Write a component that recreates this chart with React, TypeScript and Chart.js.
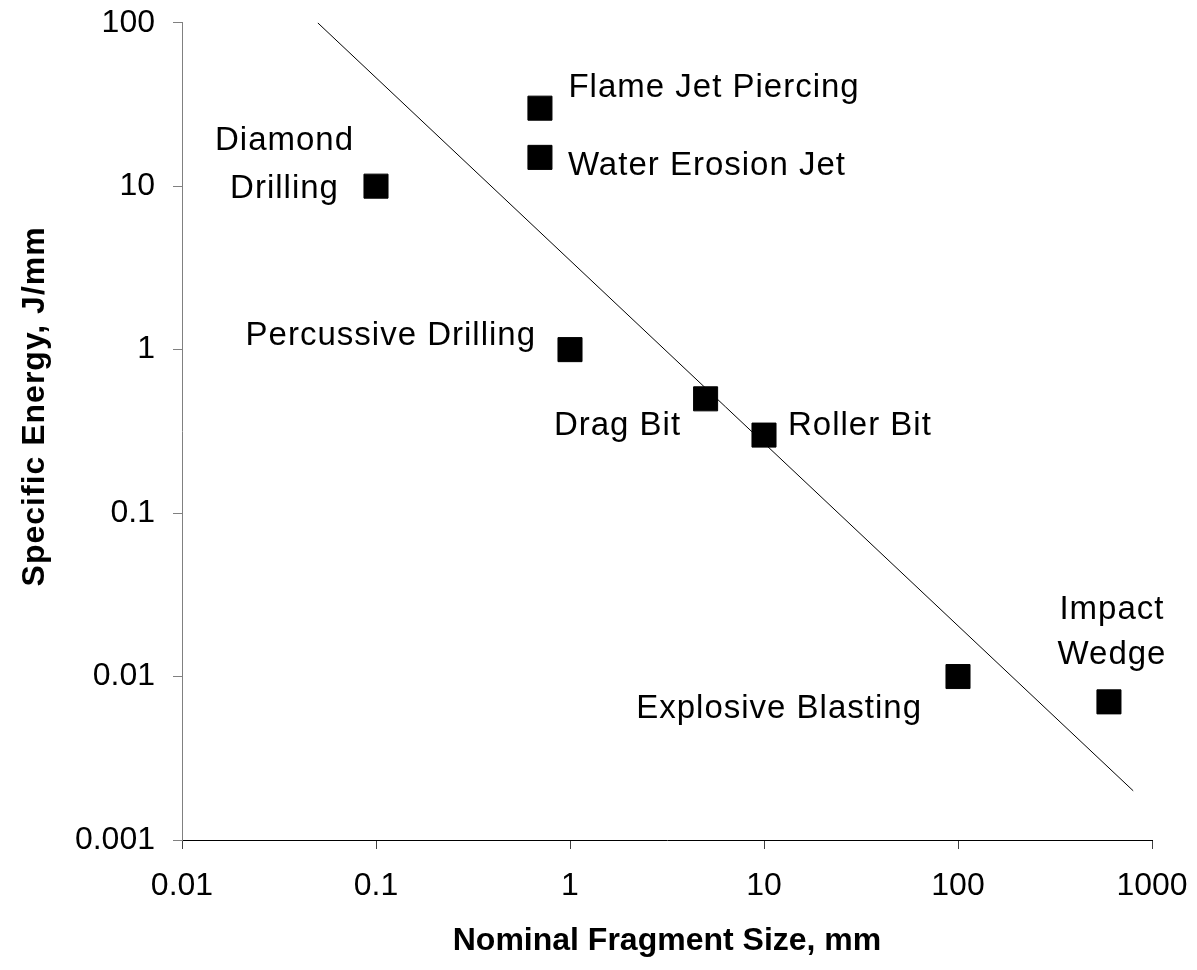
import React, { useEffect, useRef } from "react";
import { Chart, registerables } from "chart.js";

Chart.register(...registerables);

// ---- data ----
const methodLabels: string[][] = [
  ["Diamond", "Drilling"],
  ["Flame Jet Piercing"],
  ["Water Erosion Jet"],
  ["Percussive Drilling"],
  ["Drag Bit"],
  ["Roller Bit"],
  ["Explosive Blasting"],
  ["Impact", "Wedge"],
];
const fragmentSize = [0.1, 0.7, 0.7, 1, 5, 10, 100, 600];
const specificEnergy = [10, 30, 15, 1, 0.5, 0.3, 0.01, 0.007];

const trendSize = [0.05, 800];
const trendEnergy = [100, 0.002];

const xTickValues = [0.01, 0.1, 1, 10, 100, 1000];
const xTickLabels = ["0.01", "0.1", "1", "10", "100", "1000"];
const yTickValues = [0.001, 0.01, 0.1, 1, 10, 100];
const yTickLabels = ["0.001", "0.01", "0.1", "1", "10", "100"];

const xTitle = "Nominal Fragment Size, mm";
const yTitle = "Specific Energy, J/mm";

// ---- styles ----
const FONT = "Arial, 'Liberation Sans', sans-serif";
type Placement = { align: CanvasTextAlign; dx: number; dy: number; gap: number };
const labelPlacement: Placement[] = [
  { align: "center", dx: -91.5, dy: -36, gap: 48 },
  { align: "left", dx: 28.5, dy: -11, gap: 0 },
  { align: "left", dx: 28, dy: 18, gap: 0 },
  { align: "right", dx: -34, dy: -4.5, gap: 0 },
  { align: "right", dx: -24.5, dy: 36, gap: 0 },
  { align: "left", dx: 24, dy: 0, gap: 0 },
  { align: "right", dx: -36, dy: 41, gap: 0 },
  { align: "center", dx: 3, dy: -83, gap: 45 },
];

const pointLabelPlugin = {
  id: "pointLabels",
  afterDatasetsDraw(chart: any) {
    const meta = chart.getDatasetMeta(0);
    const ctx = chart.ctx;
    ctx.save();
    ctx.font = `33px ${FONT}`;
    (ctx as any).letterSpacing = "1px";
    ctx.fillStyle = "#000";
    ctx.textBaseline = "alphabetic";
    meta.data.forEach((el: any, i: number) => {
      const p = labelPlacement[i];
      ctx.textAlign = p.align;
      methodLabels[i].forEach((line, j) => {
        ctx.fillText(line, el.x + p.dx, el.y + p.dy + j * p.gap);
      });
    });
    ctx.restore();
  },
};

const axisTitlePlugin = {
  id: "axisTitles",
  afterDraw(chart: any) {
    const { ctx, chartArea } = chart;
    ctx.save();
    ctx.fillStyle = "#000";
    ctx.font = `bold 32px ${FONT}`;
    ctx.textAlign = "center";
    ctx.textBaseline = "middle";
    ctx.fillText(xTitle, (chartArea.left + chartArea.right) / 2, chartArea.bottom + 101);
    ctx.translate(35.5, (chartArea.top + chartArea.bottom) / 2 - 25);
    ctx.rotate(-Math.PI / 2);
    (ctx as any).letterSpacing = "1px";
    ctx.fillText(yTitle, 0, 0);
    ctx.restore();
  },
};

const noAutoPadding = (s: any) => {
  s.paddingTop = 0;
  s.paddingBottom = 0;
  s.paddingLeft = 0;
  s.paddingRight = 0;
};

export default function App() {
  const ref = useRef<HTMLCanvasElement>(null);

  useEffect(() => {
    if (!ref.current) return;
    const points = fragmentSize.map((x, i) => ({ x, y: specificEnergy[i] }));
    const trend = trendSize.map((x, i) => ({ x, y: trendEnergy[i] }));
    const chart = new Chart(ref.current, {
      type: "scatter",
      data: {
        datasets: [
          {
            data: points,
            pointStyle: "rect",
            pointRadius: 17,
            pointHoverRadius: 17,
            backgroundColor: "#000",
            borderColor: "#000",
            borderWidth: 1,
            showLine: false,
          },
          {
            data: trend,
            showLine: true,
            pointRadius: 0,
            borderColor: "#000",
            borderWidth: 1,
            fill: false,
          },
        ],
      },
      options: {
        responsive: false,
        animation: false,
        layout: { padding: { top: 22.7, right: 45, left: 0, bottom: 0 } },
        plugins: {
          legend: { display: false },
          tooltip: { enabled: false },
        },
        scales: {
          x: {
            type: "logarithmic",
            position: "bottom",
            min: 0.01,
            max: 1000,
            afterBuildTicks: (s: any) => {
              s.ticks = xTickValues.map((v) => ({ value: v }));
            },
            afterFit: (s: any) => {
              s.height = 130;
              noAutoPadding(s);
            },
            ticks: {
              callback: (_v: any, i: number) => xTickLabels[i],
              font: { size: 32, family: FONT },
              color: "#000",
              padding: 18,
              maxRotation: 0,
              autoSkip: false,
            },
            grid: {
              display: true,
              drawOnChartArea: false,
              drawTicks: true,
              tickLength: 9,
              color: "#404040",
            },
            border: { display: true, color: "#000", width: 1 },
          },
          y: {
            type: "logarithmic",
            position: "left",
            min: 0.001,
            max: 100,
            afterBuildTicks: (s: any) => {
              s.ticks = yTickValues.map((v) => ({ value: v }));
            },
            afterFit: (s: any) => {
              s.width = 182;
              noAutoPadding(s);
            },
            ticks: {
              callback: (_v: any, i: number) => yTickLabels[i],
              font: { size: 32, family: FONT },
              color: "#000",
              padding: 18,
              autoSkip: false,
            },
            grid: {
              display: true,
              drawOnChartArea: false,
              drawTicks: true,
              tickLength: 9,
              color: "#808080",
            },
            border: { display: true, color: "#808080", width: 1 },
          },
        },
      },
      plugins: [pointLabelPlugin, axisTitlePlugin],
    });
    return () => chart.destroy();
  }, []);

  return (
    <div style={{ position: "absolute", left: 0, top: 0, width: 1197, height: 970, background: "#fff" }}>
      <canvas ref={ref} width={1197} height={970} style={{ width: 1197, height: 970, display: "block" }} />
    </div>
  );
}
